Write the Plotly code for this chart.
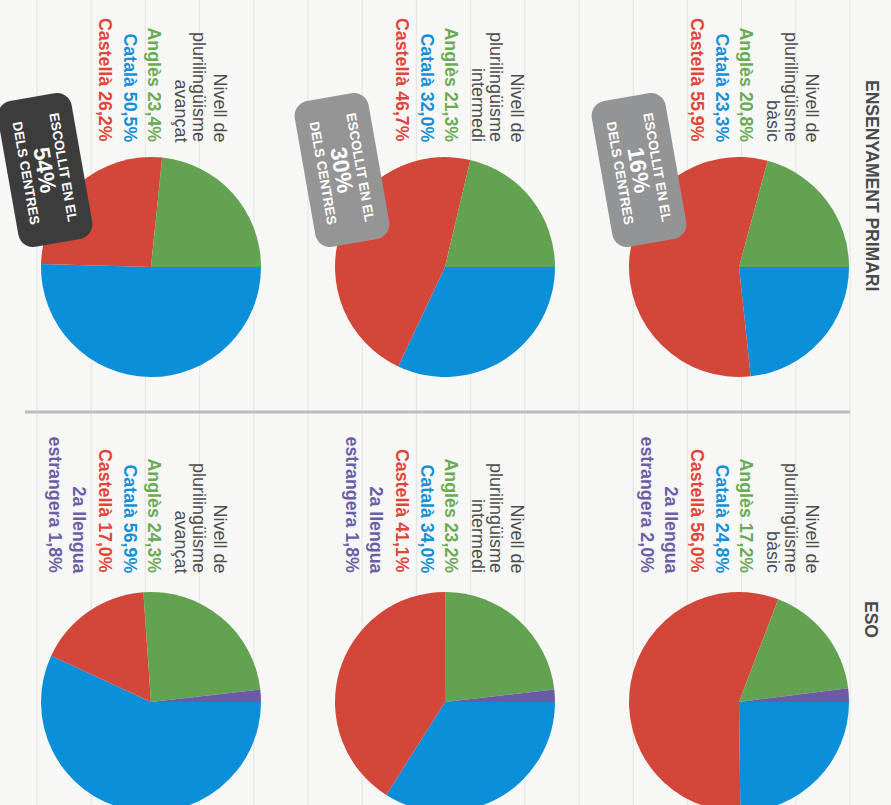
import math
import plotly.graph_objects as go

W, H = 891, 815          # figure a few px taller than the 805 window: ESO pies are cut at the bottom edge
FONT = "Liberation Sans, Arial, Helvetica, sans-serif"

# ---------------- data ----------------
levels = ["bàsic", "intermedi", "avançat"]
primary_angles = [20.8, 21.3, 23.4]
primary_catala = [23.3, 32.0, 50.5]
primary_castella = [55.9, 46.7, 26.2]

eso_angles = [17.2, 23.2, 24.3]
eso_catala = [24.8, 34.0, 56.9]
eso_castella = [56.0, 41.1, 17.0]
eso_segona = [2.0, 1.8, 1.8]

chosen_pct = [16, 30, 54]  # "ESCOLLIT EN EL x% DELS CENTRES" (primària)

section_titles = ["ENSENYAMENT PRIMARI", "ESO"]

# ---------------- style ----------------
C_GREEN, C_BLUE, C_RED, C_PURPLE = "#63a251", "#0b8fd8", "#d3473a", "#6c5aa6"
T_GREEN, T_BLUE, T_RED, T_PURPLE = "#6aab55", "#1590d8", "#e2443a", "#6a5ea8"
T_GRAY = "#4d4d4d"
BADGE_COLORS = ["#939495", "#959596", "#3c3c3c"]

pie_cx = [739, 445, 151]
pie_cy = [267, 702]
R = 110
block_x = [812, 517, 220]
block_end_y = [142, 573]
line_dx = [0, -21, -39, -66, -90, -115, -141, -165]


def fmt(v):
    return f"{v:.1f}".replace(".", ",")


def px2paper(px, py):
    return px / W, 1 - py / H


fig = go.Figure()

# ---------------- pies ----------------
for row in range(2):
    for i in range(3):
        cx, cy = pie_cx[i], pie_cy[row]
        x0, x1 = (cx - R) / W, (cx + R) / W
        y0 = max(0.0, (H - cy - R) / H)
        y1 = min(1.0, (H - cy + R) / H)
        if row == 0:
            labels = ["Català", "Castellà", "Anglès"]
            values = [primary_catala[i], primary_castella[i], primary_angles[i]]
            colors = [C_BLUE, C_RED, C_GREEN]
        else:
            labels = ["Català", "Castellà", "Anglès", "2a llengua estrangera"]
            values = [eso_catala[i], eso_castella[i], eso_angles[i], eso_segona[i]]
            colors = [C_BLUE, C_RED, C_GREEN, C_PURPLE]
        fig.add_trace(go.Pie(
            labels=labels, values=values, sort=False,
            direction="clockwise", rotation=90,
            marker=dict(colors=colors, line=dict(width=0)),
            textinfo="none", hoverinfo="skip", showlegend=False,
            domain=dict(x=[x0, x1], y=[y0, y1]),
        ))

annotations = []
shapes = []


def ann(px, py, text, size, color, angle=90, xanchor="center", yanchor="bottom"):
    x, y = px2paper(px, py)
    annotations.append(dict(
        x=x, y=y, xref="paper", yref="paper", text=text, showarrow=False,
        textangle=angle, xanchor=xanchor, yanchor=yanchor,
        borderpad=0, borderwidth=0,
        font=dict(size=size, color=color, family=FONT),
    ))


# ---------------- text blocks ----------------
for row in range(2):
    for i in range(3):
        lines = [
            ("Nivell de", T_GRAY, False),
            ("plurilingüisme", T_GRAY, False),
            (levels[i], T_GRAY, False),
        ]
        if row == 0:
            lines += [
                (f"Anglès {fmt(primary_angles[i])}%", T_GREEN, True),
                (f"Català {fmt(primary_catala[i])}%", T_BLUE, True),
                (f"Castellà {fmt(primary_castella[i])}%", T_RED, True),
            ]
        else:
            lines += [
                (f"Anglès {fmt(eso_angles[i])}%", T_GREEN, True),
                (f"Català {fmt(eso_catala[i])}%", T_BLUE, True),
                (f"Castellà {fmt(eso_castella[i])}%", T_RED, True),
                ("2a llengua", T_PURPLE, True),
                (f"estrangera {fmt(eso_segona[i])}%", T_PURPLE, True),
            ]
        for k, (txt, col, bold) in enumerate(lines):
            t = f"<b>{txt}</b>" if bold else txt
            ann(block_x[i] + line_dx[k], block_end_y[row], t, 17.8 if bold else 18, col)

# ---------------- section titles ----------------
ann(872, 185, f"<b>{section_titles[0]}</b>", 17.5, "#4a4a4a", yanchor="middle")
ann(871, 619, f"<b>{section_titles[1]}</b>", 17.5, "#4a4a4a", yanchor="middle")

# ---------------- background ruling + divider ----------------
for k in range(16):
    lx = 37 + 54.2 * k
    shapes.append(dict(type="line", xref="paper", yref="paper",
                       x0=lx / W, x1=lx / W, y0=0, y1=1, layer="below",
                       line=dict(color="#e3e3e3", width=1)))
shapes.append(dict(type="line", xref="paper", yref="paper",
                   x0=25 / W, x1=850 / W, y0=1 - 412 / H, y1=1 - 412 / H,
                   layer="below", line=dict(color="#bcbcbc", width=3)))

# ---------------- badges ----------------
badge_cx = [639, 342, 45]
badge_cy = 170
ANG = 80
BL, BW, BR = 148, 75, 15
th = math.radians(ANG)
ux, uy = math.cos(th), math.sin(th)          # reading direction
vx, vy = math.sin(th), -math.cos(th)         # text "up" direction


def badge_path(cx, cy):
    pts = []
    corners = [(BL / 2 - BR, BW / 2 - BR, 0), (-BL / 2 + BR, BW / 2 - BR, 90),
               (-BL / 2 + BR, -BW / 2 + BR, 180), (BL / 2 - BR, -BW / 2 + BR, 270)]
    for (a, b, start) in corners:
        for s in range(9):
            phi = math.radians(start + s * 90 / 8)
            la = a + BR * math.cos(phi)
            lb = b + BR * math.sin(phi)
            px = cx + la * ux + lb * vx
            py = cy + la * uy + lb * vy
            x, y = px2paper(px, py)
            pts.append(f"{x:.5f},{y:.5f}")
    return "M" + " L".join(pts) + " Z"


for i in range(3):
    cx = badge_cx[i]
    shapes.append(dict(type="path", xref="paper", yref="paper",
                       path=badge_path(cx, badge_cy), layer="above",
                       fillcolor=BADGE_COLORS[i], line=dict(width=0)))
    for off, txt, size in [(18, "<b>ESCOLLIT EN EL</b>", 13.5),
                           (0, f"<b>{chosen_pct[i]}%</b>", 23),
                           (-19, "<b>DELS CENTRES</b>", 13.5)]:
        ann(cx + off * vx, badge_cy + off * vy, txt, size, "white",
            angle=ANG, yanchor="middle")

fig.update_layout(
    width=W, height=H, margin=dict(l=0, r=0, t=0, b=0),
    paper_bgcolor="#f7f7f6", plot_bgcolor="#f7f7f6",
    annotations=annotations, shapes=shapes, showlegend=False,
)

fig.write_html(
    "out.html",
    post_script="document.documentElement.style.overflow='hidden';document.body.style.overflow='hidden';",
)
